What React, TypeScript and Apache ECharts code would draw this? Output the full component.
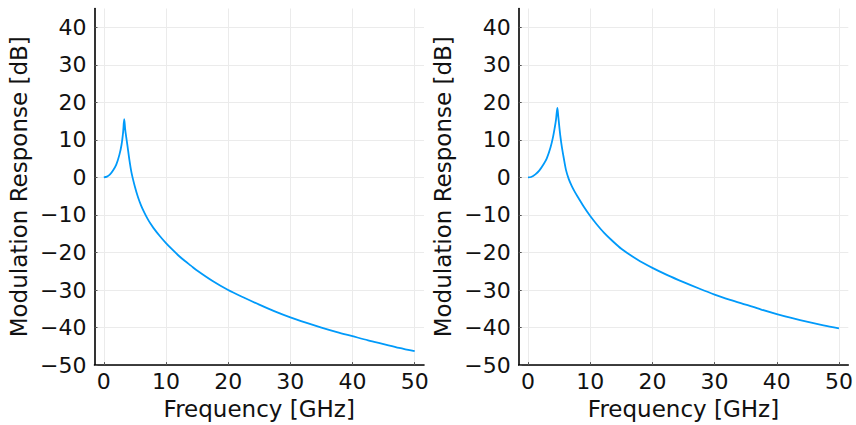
import React, { useEffect, useRef } from "react";
import * as echarts from "echarts";

// Left panel: frequency [GHz] and modulation response [dB]
const freqLeft = [0, 0.5, 1, 1.5, 2, 2.5, 2.85, 3.1, 3.28, 3.45, 3.8, 4.1, 4.46, 5, 5.5, 6, 6.5, 7, 7.5, 8, 9, 10, 11, 12, 13, 14, 15, 17.5, 20, 22.5, 25, 27.5, 30, 32.5, 35, 37.5, 40, 42.5, 45, 47.5, 50];
const respLeft = [0, 0.2, 0.8, 1.9, 3.4, 6.0, 8.7, 12.0, 15.5, 12.6, 8.5, 4.8, 1.2, -2.5, -5.3, -7.5, -9.3, -10.9, -12.3, -13.5, -15.6, -17.5, -19.2, -20.8, -22.2, -23.5, -24.8, -27.6, -30.0, -32.0, -33.9, -35.7, -37.3, -38.7, -40.0, -41.2, -42.3, -43.4, -44.4, -45.4, -46.3];

// Right panel
const freqRight = [0, 0.5, 1.18, 1.8, 2.5, 3.0, 3.6, 4.0, 4.3, 4.5, 4.72, 4.85, 5.0, 5.2, 5.45, 5.73, 6.1, 6.54, 7, 7.5, 8.15, 9, 10, 11, 12.2, 13.5, 15, 17.5, 20, 22.5, 25, 27.5, 30, 32.5, 35, 37.5, 40, 42.5, 45, 47.5, 50];
const respRight = [0, 0.1, 0.8, 1.8, 3.5, 5.0, 7.9, 10.6, 13.3, 15.4, 18.5, 16.5, 14.0, 11.0, 8.0, 5.3, 2.0, -0.4, -2.2, -3.8, -5.6, -7.9, -10.3, -12.4, -14.7, -16.8, -19.0, -21.8, -24.1, -26.1, -27.9, -29.6, -31.2, -32.6, -33.9, -35.2, -36.4, -37.5, -38.5, -39.4, -40.2];

const xTicks = [0, 10, 20, 30, 40, 50];
const yTicks = [-50, -40, -30, -20, -10, 0, 10, 20, 30, 40];
const xTitle = "Frequency [GHz]";
const yTitle = "Modulation Response [dB]";

const FONT = "DejaVu Sans";
const TEXT = "#111111";
const LINE = "#009AFA";

const fmt = (v: number) => (v < 0 ? "\u2212" + Math.abs(v) : String(v));

function pairs(xs: number[], ys: number[]) {
  return xs.map((x, i) => [x, ys[i]]);
}

export default function App() {
  const ref = useRef<HTMLDivElement>(null);
  useEffect(() => {
    document.body.style.margin = "0";
    if (!ref.current) return;
    const chart = echarts.init(ref.current, undefined, { renderer: "svg" });
    const grids = [
      { left: 94.5, top: 8.5, width: 329.5, height: 363.8 },
      { left: 518.7, top: 8.5, width: 329.6, height: 363.8 },
    ];
    const xAxis = grids.map((_, i) => ({
      type: "value",
      gridIndex: i,
      min: -1.5,
      max: 51.5,
      name: xTitle,
      nameLocation: "middle",
      nameGap: 31,
      nameTextStyle: { fontFamily: FONT, fontSize: 23, color: TEXT },
      axisLine: { show: true, onZero: false, lineStyle: { color: "#000", width: 1.6 } },
      axisTick: { show: true, inside: true, length: 3, customValues: xTicks, lineStyle: { color: "#555", width: 1 } },
      axisLabel: { customValues: xTicks, fontFamily: FONT, fontSize: 22, color: TEXT, margin: 5, formatter: fmt },
      splitLine: { show: true, lineStyle: { color: "#ebebeb", width: 1 } },
    }));
    const yAxis = grids.map((_, i) => ({
      type: "value",
      gridIndex: i,
      min: -50,
      max: 45,
      name: yTitle,
      nameLocation: "middle",
      nameGap: 64,
      nameTextStyle: { fontFamily: FONT, fontSize: 23, color: TEXT },
      axisLine: { show: true, onZero: false, lineStyle: { color: "#000", width: 1.6 } },
      axisTick: { show: true, inside: true, length: 3, customValues: yTicks, lineStyle: { color: "#555", width: 1 } },
      axisLabel: { customValues: yTicks, fontFamily: FONT, fontSize: 22, color: TEXT, margin: 8, formatter: fmt },
      splitLine: { show: true, lineStyle: { color: "#ebebeb", width: 1 } },
    }));
    chart.setOption({
      animation: false,
      backgroundColor: "#ffffff",
      grid: grids,
      xAxis,
      yAxis,
      series: [
        {
          type: "line",
          xAxisIndex: 0,
          yAxisIndex: 0,
          data: pairs(freqLeft, respLeft),
          showSymbol: false,
          smooth: 0.3,
          lineStyle: { color: LINE, width: 1.8 },
        },
        {
          type: "line",
          xAxisIndex: 1,
          yAxisIndex: 1,
          data: pairs(freqRight, respRight),
          showSymbol: false,
          smooth: 0.3,
          lineStyle: { color: LINE, width: 1.8 },
        },
      ],
    });
    return () => chart.dispose();
  }, []);
  return <div ref={ref} style={{ width: 856, height: 425 }} />;
}
